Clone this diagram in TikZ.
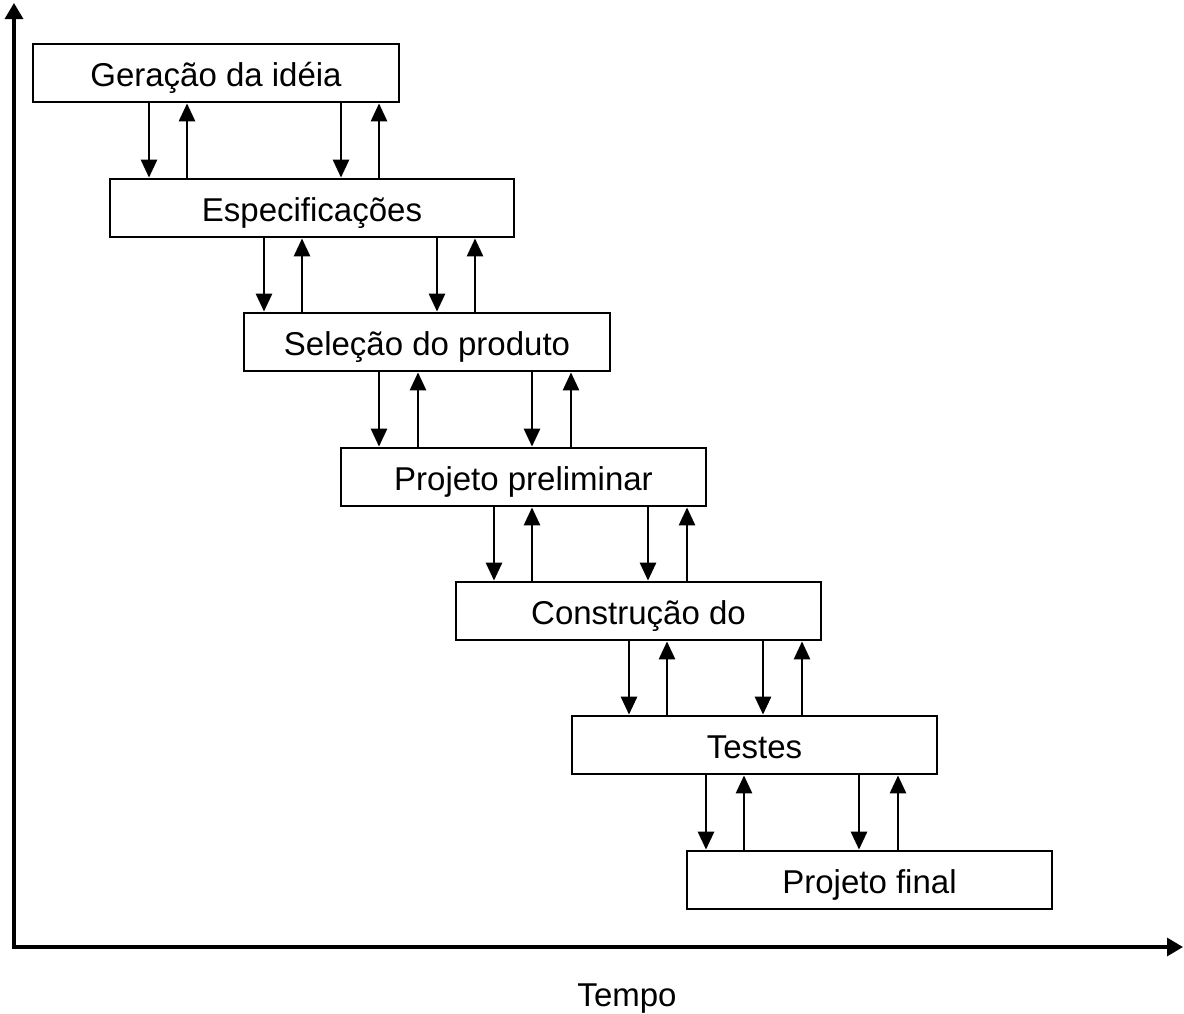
\documentclass[tikz,border=0pt]{standalone}
\usepackage{fontspec}
\setmainfont{Liberation Sans}
\usetikzlibrary{arrows.meta}
\begin{document}
\begin{tikzpicture}[x=1pt,y=-1pt,
  stage/.style={draw, line width=2.8pt, minimum height=58pt, inner sep=0pt,
                text height=26pt, text depth=0pt,
                font=\fontsize{33}{39}\selectfont},
  flow/.style={line width=2.8pt, -{Triangle[length=18pt,width=16pt]}},
  axisline/.style={line width=3.2pt,
                   {Triangle[length=16pt,width=18pt]}-{Triangle[length=16pt,width=18pt]}},
  axislabel/.style={font=\fontsize{33}{39}\selectfont}]
\useasboundingbox (0,0) rectangle (1184,1013);

% time axes
\coordinate (origin) at (14,947);
\coordinate (ytop) at (14,3);
\coordinate (xend) at (1183,947);
\draw[axisline] (ytop) -- (origin) -- (xend);
\node[axislabel, anchor=base] (tempo) at (627,1006) {Tempo};

% design stages
\node[stage, minimum width=366pt] (s1) at (216,73)    {Geração da idéia};
\node[stage, minimum width=404pt] (s2) at (312,208)   {Especificações};
\node[stage, minimum width=366pt] (s3) at (427,342)   {Seleção do produto};
\node[stage, minimum width=365pt] (s4) at (523.5,477) {Projeto preliminar};
\node[stage, minimum width=365pt] (s5) at (638.5,611) {Construção do};
\node[stage, minimum width=365pt] (s6) at (754.5,745) {Testes};
\node[stage, minimum width=365pt] (s7) at (869.5,880) {Projeto final};

% feedback arrows between consecutive stages: down, up, down, up
\foreach \a/\b/\xa/\xb/\xc/\xd in {
    s1/s2/149/187/341/379,
    s2/s3/264/302/437/475,
    s3/s4/379/418/532/571,
    s4/s5/494/532/648/687,
    s5/s6/629/667/763/802,
    s6/s7/706/744/859/898} {
  \draw[flow] (\a.south -| \xa,0) -- (\b.north -| \xa,0);
  \draw[flow] (\b.north -| \xb,0) -- (\a.south -| \xb,0);
  \draw[flow] (\a.south -| \xc,0) -- (\b.north -| \xc,0);
  \draw[flow] (\b.north -| \xd,0) -- (\a.south -| \xd,0);
}
\end{tikzpicture}
\end{document}
